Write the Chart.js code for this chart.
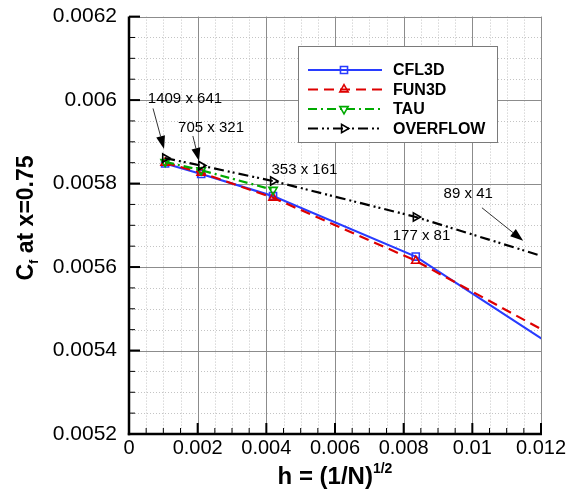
<!DOCTYPE html>
<html><head><meta charset="utf-8">
<script src="https://cdn.jsdelivr.net/npm/chart.js@4.4.1/dist/chart.umd.min.js"></script>
<style>html,body{margin:0;padding:0;background:#fff;}#wrap{width:575px;height:494px;}</style>
</head><body><div id="wrap"><canvas id="c" width="575" height="494"></canvas></div>
<script>
// ---- data ----
const hValues = [0.001052, 0.002102, 0.004195, 0.008352, 0.016554];
const hTau = [0.001052, 0.002102, 0.004195];
const cfl3dCf = [0.005848, 0.005823, 0.005770, 0.005625, 0.005185];
const fun3dCf = [0.005850, 0.005826, 0.005766, 0.005615, 0.005247];
const tauCf = [0.005852, 0.005832, 0.005785];
const overflowCf = [0.005861, 0.005843, 0.005806, 0.005720, 0.005511];
const seriesNames = ['CFL3D', 'FUN3D', 'TAU', 'OVERFLOW'];
const xTickValues = [0, 0.002, 0.004, 0.006, 0.008, 0.01, 0.012];
const yTickValues = [0.0052, 0.0054, 0.0056, 0.0058, 0.006, 0.0062];
// grid-size annotations (data coordinates)
const gridLabels = ['1409 x 641', '705 x 321', '353 x 161', '177 x 81', '89 x 41'];
const gridLabelH = [0.00163, 0.00239, 0.00511, 0.00852, 0.00988];
const gridLabelCf = [0.006002, 0.005933, 0.005832, 0.005675, 0.005775];
const arrowFromH = [0.00070, 0.00186, 0.01028];
const arrowFromCf = [0.005980, 0.005914, 0.005742];
const arrowToH = [0.00102, 0.00204, 0.01148];
const arrowToCf = [0.005883, 0.005854, 0.005663];

const FONT = "'Liberation Sans', Arial, Helvetica, sans-serif";
function fmt(v) { return String(Number(Number(v).toPrecision(6))); }
function pts(xs, ys) { return xs.map((x, i) => ({ x: x, y: ys[i] })); }

const styles = [
  { color: 'rgb(40,60,255)', dash: [], pointStyle: 'rect', rot: 0, r: 5 },
  { color: 'rgb(222,0,0)', dash: [10, 6], pointStyle: 'triangle', rot: 0, r: 4.8 },
  { color: 'rgb(0,170,0)', dash: [9, 4, 2, 4], pointStyle: 'triangle', rot: 180, r: 4.8 },
  { color: 'rgb(0,0,0)', dash: [10, 4, 2, 3, 2, 4], pointStyle: 'triangle', rot: 90, r: 4.8 }
];
const seriesX = [hValues, hValues, hTau, hValues];
const seriesY = [cfl3dCf, fun3dCf, tauCf, overflowCf];

const datasets = seriesNames.map((name, i) => ({
  label: name,
  data: pts(seriesX[i], seriesY[i]),
  borderColor: styles[i].color,
  backgroundColor: 'rgba(0,0,0,0)',
  borderWidth: 2.2,
  borderDash: styles[i].dash,
  pointStyle: styles[i].pointStyle,
  pointRotation: styles[i].rot,
  pointRadius: styles[i].r,
  pointBorderWidth: 1.6,
  pointBorderColor: styles[i].color,
  pointBackgroundColor: 'rgba(0,0,0,0)',
  tension: 0,
  order: 4 - i
}));

function line(ctx, x1, y1, x2, y2) { ctx.beginPath(); ctx.moveTo(x1, y1); ctx.lineTo(x2, y2); ctx.stroke(); }

function drawMarker(ctx, st, x, y) {
  ctx.save();
  ctx.translate(x, y);
  ctx.rotate(st.rot * Math.PI / 180);
  ctx.setLineDash([]);
  ctx.strokeStyle = st.color;
  ctx.lineWidth = 1.6;
  ctx.beginPath();
  if (st.pointStyle === 'rect') {
    const s = st.r * Math.SQRT1_2;
    ctx.rect(-s, -s, 2 * s, 2 * s);
  } else {
    const r = st.r;
    ctx.moveTo(0, -r);
    ctx.lineTo(r * Math.sin(Math.PI * 2 / 3), r * 0.5);
    ctx.lineTo(-r * Math.sin(Math.PI * 2 / 3), r * 0.5);
    ctx.closePath();
  }
  ctx.stroke();
  ctx.restore();
}

function drawRich(ctx, parts, cx, baseline) {
  let total = 0;
  parts.forEach(p => { ctx.font = p.font; p.w = ctx.measureText(p.text).width; total += p.w; });
  let x = cx - total / 2;
  ctx.textAlign = 'left';
  ctx.textBaseline = 'alphabetic';
  parts.forEach(p => { ctx.font = p.font; ctx.fillText(p.text, x, baseline + p.dy); x += p.w; });
}

const framePlugin = {
  id: 'frame',
  beforeDatasetsDraw(chart) {
    const { ctx, chartArea: a, scales: { x, y } } = chart;
    ctx.save();
    ctx.lineWidth = 1;
    // minor grid (dotted)
    ctx.strokeStyle = '#c4c4c4';
    ctx.setLineDash([1, 2]);
    for (let i = 1; i < 24; i++) {
      if (i % 4 === 0) continue;
      const px = Math.round(x.getPixelForValue(i * 0.0005)) + 0.5;
      line(ctx, px, a.top, px, a.bottom);
    }
    for (let i = 1; i < 20; i++) {
      if (i % 4 === 0) continue;
      const py = Math.round(y.getPixelForValue(0.0052 + i * 0.00005)) + 0.5;
      line(ctx, a.left, py, a.right, py);
    }
    // major grid (solid)
    ctx.setLineDash([]);
    ctx.strokeStyle = '#8c8c8c';
    xTickValues.forEach(v => { const px = Math.round(x.getPixelForValue(v)) + 0.5; line(ctx, px, a.top, px, a.bottom); });
    yTickValues.forEach(v => { const py = Math.round(y.getPixelForValue(v)) + 0.5; line(ctx, a.left, py, a.right, py); });
    ctx.restore();
  },
  afterDatasetsDraw(chart) {
    const { ctx, chartArea: a, scales: { x, y } } = chart;
    ctx.save();
    ctx.setLineDash([]);
    // ticks (inward)
    ctx.strokeStyle = '#000';
    ctx.lineWidth = 1;
    for (let i = 1; i < 24; i++) {
      if (i % 4 === 0) continue;
      const px = x.getPixelForValue(i * 0.0005);
      line(ctx, px, a.bottom, px, a.bottom - 6);
    }
    for (let i = 1; i < 20; i++) {
      if (i % 4 === 0) continue;
      const py = y.getPixelForValue(0.0052 + i * 0.00005);
      line(ctx, a.left, py, a.left + 6, py);
    }
    ctx.lineWidth = 2;
    xTickValues.forEach(v => { const px = x.getPixelForValue(v); line(ctx, px, a.bottom, px, a.bottom - 11); });
    yTickValues.forEach(v => { const py = y.getPixelForValue(v); line(ctx, a.left, py, a.left + 11, py); });
    // axes
    ctx.lineWidth = 2.5;
    line(ctx, a.left, a.top, a.left, a.bottom + 1.2);
    line(ctx, a.left - 1.2, a.bottom, a.right + 1, a.bottom);

    // annotations
    ctx.fillStyle = '#000';
    ctx.font = '15px ' + FONT;
    ctx.textAlign = 'center';
    ctx.textBaseline = 'middle';
    gridLabels.forEach((t, i) => {
      ctx.fillText(t, x.getPixelForValue(gridLabelH[i]), y.getPixelForValue(gridLabelCf[i]));
    });
    arrowFromH.forEach((h0, i) => {
      const x1 = x.getPixelForValue(h0), y1 = y.getPixelForValue(arrowFromCf[i]);
      const x2 = x.getPixelForValue(arrowToH[i]), y2 = y.getPixelForValue(arrowToCf[i]);
      const ang = Math.atan2(y2 - y1, x2 - x1);
      const L = 13, W = 4.5;
      const bx = x2 - L * Math.cos(ang), by = y2 - L * Math.sin(ang);
      ctx.strokeStyle = '#333';
      ctx.lineWidth = 1;
      line(ctx, x1, y1, bx, by);
      ctx.beginPath();
      ctx.moveTo(x2, y2);
      ctx.lineTo(bx + W * Math.sin(ang), by - W * Math.cos(ang));
      ctx.lineTo(bx - W * Math.sin(ang), by + W * Math.cos(ang));
      ctx.closePath();
      ctx.fillStyle = '#000';
      ctx.fill();
    });

    // legend
    const lx = 298.5, ly = 46.5, lw = 199, lh = 96;
    ctx.fillStyle = '#fff';
    ctx.fillRect(lx, ly, lw, lh);
    ctx.strokeStyle = '#7a7a7a';
    ctx.lineWidth = 1;
    ctx.strokeRect(lx, ly, lw, lh);
    seriesNames.forEach((name, i) => {
      const st = styles[i];
      const ry = 70 + i * 19.5;
      ctx.strokeStyle = st.color;
      ctx.lineWidth = 2.2;
      ctx.setLineDash(st.dash);
      line(ctx, 308, ry, 382, ry);
      ctx.setLineDash([]);
      drawMarker(ctx, st, 344, ry);
      ctx.fillStyle = '#000';
      ctx.font = 'bold 16px ' + FONT;
      ctx.textAlign = 'left';
      ctx.textBaseline = 'middle';
      ctx.fillText(name, 393, ry + 1);
    });

    // axis titles
    ctx.fillStyle = '#000';
    drawRich(ctx, [
      { text: 'h = (1/N)', font: 'bold 24px ' + FONT, dy: 0 },
      { text: '1/2', font: 'bold 14px ' + FONT, dy: -11 }
    ], (a.left + a.right) / 2, 484);
    ctx.save();
    ctx.translate(33, 218);
    ctx.rotate(-Math.PI / 2);
    drawRich(ctx, [
      { text: 'C', font: 'bold 23px ' + FONT, dy: 0 },
      { text: 'f', font: 'bold 13px ' + FONT, dy: 5 },
      { text: ' at x=0.75', font: 'bold 23px ' + FONT, dy: 0 }
    ], 0, 0);
    ctx.restore();
    ctx.restore();
  }
};

new Chart(document.getElementById('c'), {
  type: 'line',
  data: { datasets: datasets },
  options: {
    responsive: false,
    animation: false,
    layout: { padding: { top: 15, right: 34, left: 0, bottom: 0 } },
    plugins: { legend: { display: false }, tooltip: { enabled: false } },
    scales: {
      x: {
        type: 'linear', min: 0, max: 0.012,
        grid: { display: false }, border: { display: false },
        ticks: { stepSize: 0.002, autoSkip: false, maxRotation: 0, padding: -6,
          color: '#000', font: { family: FONT, size: 20 }, callback: v => fmt(v) },
        afterFit: s => { s.height = 60; }
      },
      y: {
        type: 'linear', min: 0.0052, max: 0.0062,
        grid: { display: false }, border: { display: false },
        ticks: { stepSize: 0.0002, padding: 4, color: '#000',
          font: { family: FONT, size: 21 }, callback: v => fmt(v) },
        afterFit: s => { s.width = 129; }
      }
    }
  },
  plugins: [framePlugin]
});
</script>
</body></html>
